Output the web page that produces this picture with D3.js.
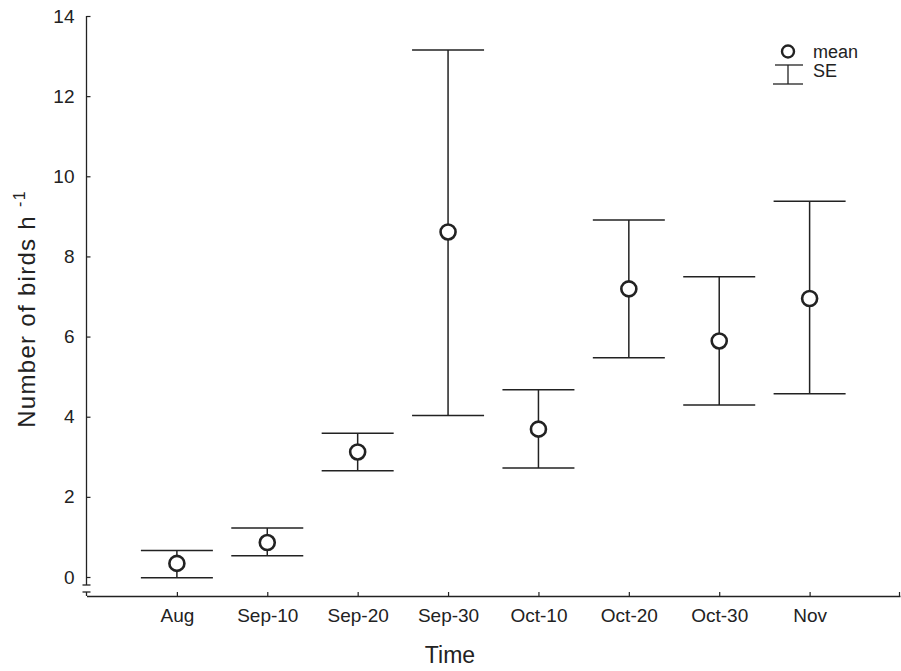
<!DOCTYPE html>
<html>
<head>
<meta charset="utf-8">
<script src="https://cdn.jsdelivr.net/npm/d3@7"></script>
<style>
  body { margin: 0; background: #fff; }
  text { font-family: "Liberation Sans", Arial, sans-serif; fill: #222; }
</style>
</head>
<body>
<svg width="901" height="671"></svg>
<script>
// periods on the x axis
var periods = ["Aug", "Sep-10", "Sep-20", "Sep-30", "Oct-10", "Oct-20", "Oct-30", "Nov"];
// mean number of birds per hour
var means = [0.34, 0.86, 3.12, 8.61, 3.69, 7.19, 5.89, 6.95];
// mean - SE and mean + SE
var lower = [-0.02, 0.53, 2.65, 4.03, 2.72, 5.47, 4.29, 4.57];
var upper = [0.66, 1.22, 3.59, 13.15, 4.67, 8.91, 7.49, 9.38];
var yTicks = [0, 2, 4, 6, 8, 10, 12, 14];

var ink = "#222";

var svg = d3.select("svg");

var xScale = d3.scaleLinear().domain([0, periods.length + 1]).range([86.5, 900]);
var yScale = d3.scaleLinear().domain([0, 14]).range([577, 16]);
var axisY = 596;

// x axis
var xAxis = d3.axisBottom(xScale)
    .tickValues(d3.range(1, periods.length + 1))
    .tickFormat(function(d) { return periods[d - 1]; })
    .tickSizeInner(-4)
    .tickSizeOuter(0)
    .tickPadding(13);

var gx = svg.append("g")
    .attr("transform", "translate(0," + axisY + ")")
    .call(xAxis);
gx.select(".domain").attr("stroke", ink).attr("stroke-width", 1.3);
gx.selectAll(".tick line").attr("stroke", ink).attr("stroke-width", 1.2);
gx.selectAll(".tick text").style("font-size", "19px").attr("fill", ink);
// small tick at the right end
gx.append("line")
    .attr("x1", xScale(periods.length + 1) - 0.5).attr("x2", xScale(periods.length + 1) - 0.5)
    .attr("y1", 0).attr("y2", -4)
    .attr("stroke", ink).attr("stroke-width", 1.2);

// y axis (with break near the bottom)
var yAxis = d3.axisLeft(yScale)
    .tickValues(yTicks)
    .tickSizeInner(-4)
    .tickSizeOuter(0)
    .tickPadding(12);

var gy = svg.append("g")
    .attr("transform", "translate(" + xScale(0) + ",0)")
    .call(yAxis);
gy.select(".domain").remove();
gy.selectAll(".tick line").attr("stroke", ink).attr("stroke-width", 1.2);
gy.selectAll(".tick text").style("font-size", "19px").attr("fill", ink);

gy.append("line").attr("x1", 0).attr("x2", 0).attr("y1", yScale(14)).attr("y2", 585)
    .attr("stroke", ink).attr("stroke-width", 1.3);
gy.append("line").attr("x1", 0).attr("x2", 0).attr("y1", 592).attr("y2", axisY)
    .attr("stroke", ink).attr("stroke-width", 1.3);
[585, 592].forEach(function(yy) {
    gy.append("line").attr("x1", -4).attr("x2", 4).attr("y1", yy).attr("y2", yy)
        .attr("stroke", ink).attr("stroke-width", 1.3);
});

// error bars
var capHalf = 36;
var bars = svg.append("g").selectAll("g")
    .data(periods)
    .enter().append("g");

bars.append("line")
    .attr("x1", function(d, i) { return xScale(i + 1); })
    .attr("x2", function(d, i) { return xScale(i + 1); })
    .attr("y1", function(d, i) { return yScale(lower[i]); })
    .attr("y2", function(d, i) { return yScale(upper[i]); })
    .attr("stroke", ink).attr("stroke-width", 1.5);

bars.append("line")
    .attr("x1", function(d, i) { return xScale(i + 1) - capHalf; })
    .attr("x2", function(d, i) { return xScale(i + 1) + capHalf; })
    .attr("y1", function(d, i) { return yScale(upper[i]); })
    .attr("y2", function(d, i) { return yScale(upper[i]); })
    .attr("stroke", ink).attr("stroke-width", 1.5);

bars.append("line")
    .attr("x1", function(d, i) { return xScale(i + 1) - capHalf; })
    .attr("x2", function(d, i) { return xScale(i + 1) + capHalf; })
    .attr("y1", function(d, i) { return yScale(lower[i]); })
    .attr("y2", function(d, i) { return yScale(lower[i]); })
    .attr("stroke", ink).attr("stroke-width", 1.5);

bars.append("circle")
    .attr("cx", function(d, i) { return xScale(i + 1); })
    .attr("cy", function(d, i) { return yScale(means[i]); })
    .attr("r", 7.5)
    .attr("fill", "#fff")
    .attr("stroke", ink)
    .attr("stroke-width", 2.6);

// axis titles
svg.append("text")
    .attr("x", 450).attr("y", 663)
    .attr("text-anchor", "middle")
    .style("font-size", "23px")
    .text("Time");

var yl = svg.append("text")
    .attr("transform", "translate(35,309) rotate(-90)")
    .attr("text-anchor", "middle")
    .style("font-size", "24px")
    .style("letter-spacing", "1.3px");
yl.append("tspan").text("Number of birds h ");
yl.append("tspan").attr("dy", -10).style("font-size", "16px").text("-1");

// legend
var lg = svg.append("g");
lg.append("circle").attr("cx", 788).attr("cy", 51.5).attr("r", 6)
    .attr("fill", "#fff").attr("stroke", ink).attr("stroke-width", 2.4);
lg.append("text").attr("x", 813).attr("y", 57.5).style("font-size", "18px").text("mean");
lg.append("line").attr("x1", 775).attr("x2", 803).attr("y1", 65).attr("y2", 65)
    .attr("stroke", ink).attr("stroke-width", 1.3);
lg.append("line").attr("x1", 788).attr("x2", 788).attr("y1", 65).attr("y2", 84)
    .attr("stroke", ink).attr("stroke-width", 1.3);
lg.append("line").attr("x1", 773).attr("x2", 803).attr("y1", 84).attr("y2", 84)
    .attr("stroke", ink).attr("stroke-width", 1.3);
lg.append("text").attr("x", 813).attr("y", 77).style("font-size", "18px").text("SE");
</script>
</body>
</html>
